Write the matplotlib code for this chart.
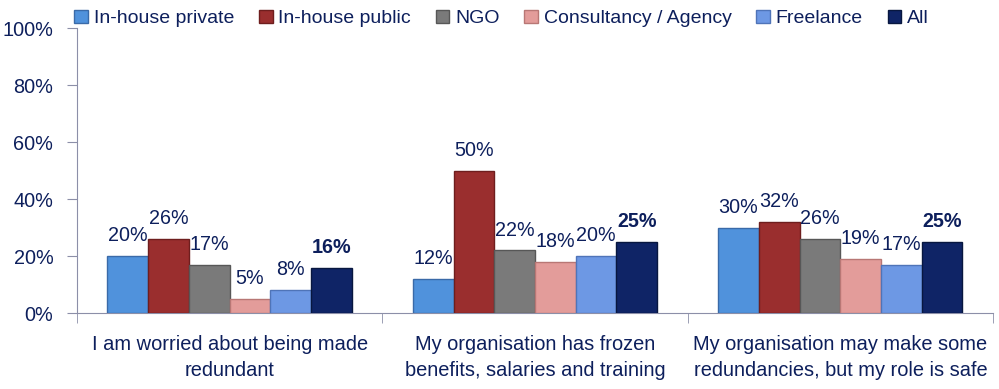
import matplotlib
matplotlib.use("Agg")
import matplotlib.pyplot as plt
import numpy as np

categories = ["I am worried about being made\nredundant",
              "My organisation has frozen\nbenefits, salaries and training",
              "My organisation may make some\nredundancies, but my role is safe"]
series = ["In-house private", "In-house public", "NGO", "Consultancy / Agency", "Freelance", "All"]
values = {
    "In-house private": [20, 12, 30],
    "In-house public": [26, 50, 32],
    "NGO": [17, 22, 26],
    "Consultancy / Agency": [5, 18, 19],
    "Freelance": [8, 20, 17],
    "All": [16, 25, 25],
}
colors = ["#5092dc", "#9a2e2e", "#7a7a7a", "#e39c9a", "#6d98e4", "#0f2466"]
edge_colors = ["#3a6aa8", "#6e1e1e", "#575757", "#b87775", "#4f74b8", "#08173f"]
yticks = [0, 20, 40, 60, 80, 100]

txt = "#0d1f5c"
plt.rcParams['font.family'] = ['Liberation Sans', 'DejaVu Sans']

fig = plt.figure(figsize=(9.99, 3.89), dpi=100)
ax = fig.add_axes([0.077, 0.195, 0.917, 0.733])

n = len(series)
group_w = 0.8
bw = group_w / n
x = np.arange(len(categories))
for i, s in enumerate(series):
    pos = x - group_w / 2 + bw * (i + 0.5)
    bars = ax.bar(pos, values[s], width=bw, color=colors[i], edgecolor=edge_colors[i],
                  linewidth=1.0, label=s, zorder=3)
    for b, v in zip(bars, values[s]):
        ax.text(b.get_x() + b.get_width() / 2, v + 3.8, f"{v}%", ha="center", va="bottom",
                fontsize=14.2, color=txt, fontweight="bold" if s == "All" else "normal")

ax.set_xlim(-0.5, len(categories) - 0.5)
ax.set_ylim(0, 100)
ax.set_yticks(yticks)
ax.set_yticklabels([f"{t}%" for t in yticks], fontsize=14.3, color=txt)
ax.set_xticks(x)
ax.set_xticklabels(categories, fontsize=14.4, color=txt, linespacing=1.45)
ax.tick_params(axis="x", length=0, pad=16)
ax.set_xticks(np.arange(len(categories) + 1) - 0.5, minor=True)
ax.tick_params(axis="x", which="minor", length=7, color="#8c8fa8", direction="out")
ax.tick_params(axis="y", length=7, color="#8c8fa8", direction="out", pad=10)
for sp in ["top", "right"]:
    ax.spines[sp].set_visible(False)
for sp in ["left", "bottom"]:
    ax.spines[sp].set_color("#8c8fa8")

leg = fig.legend(loc="upper left", bbox_to_anchor=(0.057, 1.02), ncol=6, frameon=False,
                 fontsize=14, handlelength=0.7, handleheight=0.7, handletextpad=0.3,
                 columnspacing=1.27)
for t in leg.get_texts():
    t.set_color(txt)

fig.savefig("out.png", dpi=100)
